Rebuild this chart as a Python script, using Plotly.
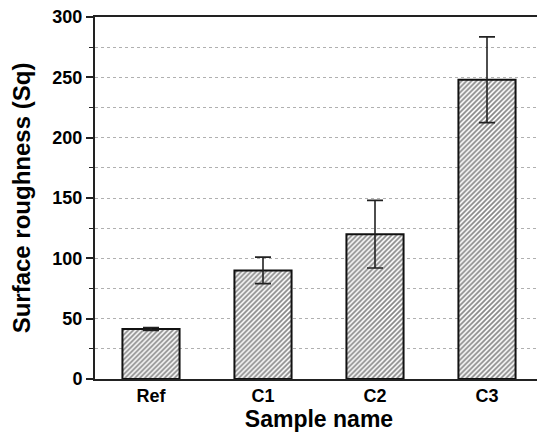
import plotly.graph_objects as go

categories = ["Ref", "C1", "C2", "C3"]
roughness = [41.5, 90, 120, 248]
roughness_err = [1.2, 11, 28, 35.5]
y_ticks = [0, 50, 100, 150, 200, 250, 300]

fig = go.Figure()
fig.add_trace(go.Bar(
    x=categories, y=roughness,
    width=0.51,
    marker=dict(
        color="white",
        line=dict(color="#111111", width=2),
        pattern=dict(shape="/", size=3.5, solidity=0.5, fgcolor="#111111", bgcolor="white"),
    ),
    error_y=dict(type="data", array=roughness_err, visible=True,
                 color="#222222", thickness=1.6, width=8),
    showlegend=False,
))

font_family = "Liberation Sans, Arial, sans-serif"
fig.update_layout(
    width=537, height=429,
    margin=dict(l=87, r=2, t=9, b=58),
    plot_bgcolor="white", paper_bgcolor="white",
    font=dict(family=font_family, color="black"),
    xaxis=dict(
        range=[-0.5, 3.5], automargin=False,
        tickvals=categories, ticktext=["<b>%s</b>" % c for c in categories],
        showline=True, linecolor="#222222", linewidth=1.5, mirror=True,
        ticks="", showgrid=False,
        tickfont=dict(size=18, family=font_family),
        title=dict(text="<b>Sample name</b>", font=dict(size=23), standoff=2),
    ),
    yaxis=dict(
        range=[0, 300], automargin=False,
        tickvals=y_ticks, ticktext=["<b>%d</b>" % v for v in y_ticks],
        ticklabeloverflow="allow",
        showline=True, linecolor="#222222", linewidth=2, mirror=True,
        ticks="outside", ticklen=7, tickwidth=1.5, tickcolor="#222222",
        tickfont=dict(size=18, family=font_family),
        showgrid=True, gridcolor="#b0b0b0", griddash="dot", gridwidth=1,
        zeroline=False,
        minor=dict(dtick=25, ticks="outside", ticklen=4, tickwidth=1.2, tickcolor="#222222",
                   showgrid=True, gridcolor="#b0b0b0", griddash="dot", gridwidth=1),
        title=dict(text="<b>Surface roughness (Sq)</b>", font=dict(size=24), standoff=18),
    ),
)

fig.write_html("out.html")
